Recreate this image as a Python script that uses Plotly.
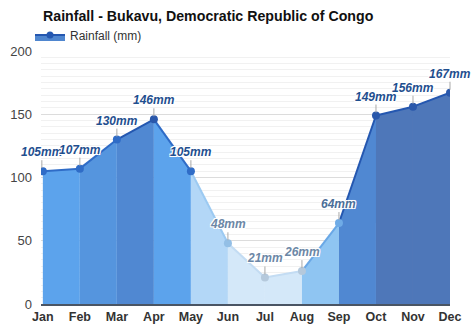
import plotly.graph_objects as go

months = ["Jan", "Feb", "Mar", "Apr", "May", "Jun", "Jul", "Aug", "Sep", "Oct", "Nov", "Dec"]
rainfall = [105, 107, 130, 146, 105, 48, 21, 26, 64, 149, 156, 167]
y_ticks = [0, 50, 100, 150, 200]


def fill_color(v):
    # shade each band by the value at its right-hand end
    if v >= 155:
        return "#4e77b9"
    if v >= 140:
        return "#5088d2"
    if v >= 120:
        return "#5595de"
    if v >= 90:
        return "#5ca3ec"
    if v >= 60:
        return "#8fc5f2"
    if v >= 40:
        return "#b3d7f7"
    return "#d4e8f9"


def line_color(v):
    if v >= 140:
        return "#2457b0"
    if v >= 90:
        return "#2f6cc7"
    if v >= 60:
        return "#6aa8e6"
    if v >= 40:
        return "#9ccaf2"
    return "#c3dcf3"


def marker_color(v):
    if v >= 140:
        return "#2a58ab"
    if v >= 90:
        return "#2f6cc7"
    if v >= 60:
        return "#6fabe6"
    if v >= 40:
        return "#93bfe6"
    return "#b5c9dc"


def label_color(v):
    if v >= 90:
        return "#1f4f8f"
    if v >= 60:
        return "#4b6e98"
    return "#6c87a6"


FONT = "Liberation Sans, Arial, sans-serif"
x = list(range(len(months)))
fig = go.Figure()

# filled bands between consecutive months
for i in range(len(x) - 1):
    fig.add_trace(go.Scatter(
        x=[x[i], x[i + 1], x[i + 1], x[i], x[i]],
        y=[rainfall[i], rainfall[i + 1], 0, 0, rainfall[i]],
        fill="toself", fillcolor=fill_color(rainfall[i + 1]),
        mode="none", hoverinfo="skip", showlegend=False,
    ))

# outline segments
for i in range(len(x) - 1):
    fig.add_trace(go.Scatter(
        x=[x[i], x[i + 1]], y=[rainfall[i], rainfall[i + 1]],
        mode="lines", line=dict(color=line_color(rainfall[i + 1]), width=2),
        hoverinfo="skip", showlegend=False,
    ))

# monthly points
fig.add_trace(go.Scatter(
    x=x, y=rainfall, mode="markers",
    marker=dict(size=8, color=[marker_color(v) for v in rainfall]),
    showlegend=False, hovertemplate="%{y} mm<extra></extra>",
))

# legend entry
fig.add_trace(go.Scatter(
    x=[None], y=[None], name="Rainfall (mm)", mode="lines+markers",
    fill="tozeroy", fillcolor="#4f86cf",
    line=dict(color="#2457b0", width=2), marker=dict(size=7, color="#2457b0"),
))

halo = "-1px -1px 0 #fff, 1px -1px 0 #fff, -1px 1px 0 #fff, 1px 1px 0 #fff, 0 0 2px #fff"
for xi, v in zip(x, rainfall):
    fig.add_annotation(
        x=xi, y=v, text=f"<b><i>{v}mm</i></b>",
        showarrow=True, arrowhead=0, arrowwidth=1, arrowcolor="#a9a9a9",
        ax=0, ay=-11, standoff=3, yanchor="bottom", borderpad=0,
        xshift=-1 if xi == 0 else 0,
        font=dict(family=FONT, size=12, color=label_color(v), shadow=halo),
    )

fig.update_layout(
    width=474, height=331,
    margin=dict(l=41, r=24, t=51, b=27),
    paper_bgcolor="white", plot_bgcolor="white",
    font=dict(family=FONT, color="#333"),
    title=dict(
        text="<b>Rainfall - Bukavu, Democratic Republic of Congo</b>",
        x=43 / 474, xanchor="left", y=1 - 16 / 331, yanchor="middle",
        font=dict(size=14.2, color="#111"),
    ),
    showlegend=True,
    legend=dict(
        xref="container", yref="container",
        x=30 / 474, xanchor="left", y=1 - 35 / 331, yanchor="middle",
        orientation="h", font=dict(size=12, color="#333"),
        bgcolor="rgba(0,0,0,0)", itemwidth=30,
    ),
    xaxis=dict(
        range=[-0.05, 11], tickmode="array", tickvals=x,
        ticktext=[f"<b>{m}</b>" for m in months],
        showgrid=False, zeroline=False, automargin=False,
        showline=True, linecolor="#4a5564", linewidth=1.5,
        ticks="", tickfont=dict(size=12.5, color="#333", family=FONT),
    ),
    yaxis=dict(
        range=[0, 200], tickmode="array", tickvals=y_ticks,
        showgrid=True, gridcolor="#dcdcdc", gridwidth=1,
        minor=dict(dtick=5, showgrid=True, gridcolor="#f1f1f1", gridwidth=1),
        zeroline=False, ticks="", ticklen=0, automargin=False,
        ticklabelstandoff=8,
        tickfont=dict(size=13, color="#444"),
    ),
)

fig.write_html("out.html")
